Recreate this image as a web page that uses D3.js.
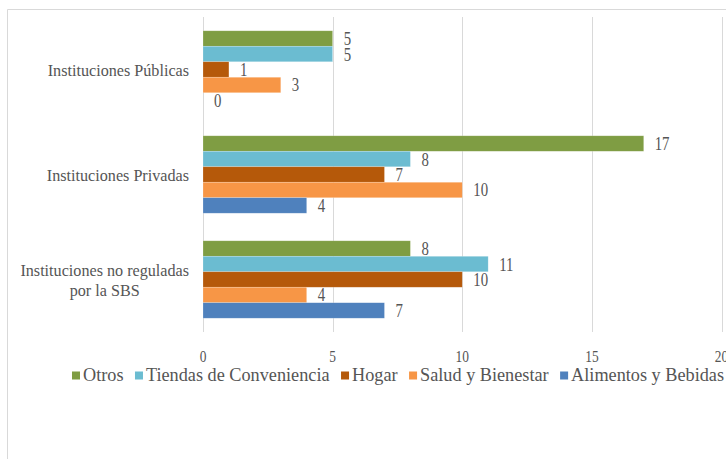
<!DOCTYPE html>
<html>
<head>
<meta charset="utf-8">
<script src="https://cdn.jsdelivr.net/npm/d3@7"></script>
<style>
  html, body { margin: 0; padding: 0; background: #ffffff; }
  svg { display: block; }
</style>
</head>
<body>
<div id="chart"></div>
<script>
// data
const categories = ['Instituciones Públicas', 'Instituciones Privadas', 'Instituciones no reguladas|por la SBS'];
const seriesNames = ['Otros', 'Tiendas de Conveniencia', 'Hogar', 'Salud y Bienestar', 'Alimentos y Bebidas'];
const seriesColors = ['#7F9D43', '#6BBCD1', '#B5590A', '#F79646', '#4F81BD'];
const otros = [5, 17, 8];
const tiendas = [5, 8, 11];
const hogar = [1, 7, 10];
const salud = [3, 10, 4];
const alimentos = [0, 4, 7];
const xTicks = [0, 5, 10, 15, 20];

const seriesValues = [otros, tiendas, hogar, salud, alimentos];

const W = 726, H = 459;
const textColor = '#555555';
const gridColor = '#D9D9D9';
const fontFamily = 'Liberation Serif';

const svg = d3.select('#chart').append('svg')
    .attr('width', W)
    .attr('height', H);

// outer chart border (cropped at right and bottom)
svg.append('path')
    .attr('d', `M7.5,${H} V9.5 H${W}`)
    .attr('fill', 'none')
    .attr('stroke', gridColor)
    .attr('stroke-width', 1);

const x = d3.scaleLinear().domain([0, 20]).range([203, 721.5]);
const y0 = d3.scaleBand().domain(categories).range([17, 332]);
const y1 = d3.scaleBand().domain(seriesNames).range([0, y0.bandwidth()]).paddingOuter(0.89);

// squeezed text, as in the picture
function label(g, str, px, py, size, sx, anchor) {
    return g.append('text')
        .attr('transform', `translate(${px},${py}) scale(${sx},1)`)
        .attr('text-anchor', anchor)
        .attr('font-family', fontFamily)
        .attr('font-size', size)
        .attr('fill', textColor)
        .text(str);
}

// gridlines
svg.append('g').selectAll('line')
    .data(xTicks)
    .join('line')
    .attr('x1', d => Math.round(x(d)) + 0.5)
    .attr('x2', d => Math.round(x(d)) + 0.5)
    .attr('y1', 17)
    .attr('y2', 332)
    .attr('stroke', gridColor)
    .attr('stroke-width', 1);

// tick labels
const tickG = svg.append('g');
xTicks.forEach(t => label(tickG, String(t), x(t), 361.5, 16, 0.84, 'middle'));

// bars
const rows = [];
categories.forEach((c, ci) => {
    seriesNames.forEach((s, si) => {
        rows.push({ cat: c, series: s, value: seriesValues[si][ci], color: seriesColors[si] });
    });
});

const barG = svg.append('g');
barG.selectAll('rect')
    .data(rows)
    .join('rect')
    .attr('x', x(0))
    .attr('y', d => y0(d.cat) + y1(d.series))
    .attr('width', d => x(d.value) - x(0))
    .attr('height', y1.bandwidth())
    .attr('fill', d => d.color)
    .attr('stroke', '#ffffff')
    .attr('stroke-opacity', 0.35)
    .attr('stroke-width', 0.6);

// value labels
const valG = svg.append('g');
rows.forEach(d => {
    const cy = y0(d.cat) + y1(d.series) + y1.bandwidth() / 2;
    label(valG, String(d.value), x(d.value) + 11, cy + 6.5, 19, 0.78, 'start');
});

// category labels
const catG = svg.append('g');
categories.forEach(c => {
    const lines = c.split('|');
    const cy = y0(c) + y0.bandwidth() / 2;
    const lineH = 20;
    const sx = 0.95;
    const nodes = lines.map((ln, i) => {
        const base = cy + 6 - (lines.length - 1) * lineH / 2 + i * lineH;
        return label(catG, ln, 0, base, 17, sx, 'middle');
    });
    const widths = nodes.map(n => n.node().getComputedTextLength() * sx);
    const blockW = d3.max(widths);
    const right = 189;
    nodes.forEach((n, i) => {
        const base = cy + 6 - (lines.length - 1) * lineH / 2 + i * lineH;
        n.attr('transform', `translate(${right - blockW / 2},${base}) scale(${sx},1)`);
    });
});

// legend
const legG = svg.append('g');
const legSx = 0.96, legSize = 19;
const legStart = 72, legEnd = 724;
const items = seriesNames.map((s, i) => {
    const t = label(legG, s, 0, 381, legSize, legSx, 'start');
    return { name: s, color: seriesColors[i], node: t, w: t.node().getComputedTextLength() * legSx };
});
const sq = 8, sqGap = 3;
const used = d3.sum(items, d => sq + sqGap + d.w);
const itemGap = (legEnd - legStart - used) / (items.length - 1);
let cx = legStart;
items.forEach(d => {
    legG.append('rect')
        .attr('x', cx)
        .attr('y', 371.5)
        .attr('width', sq)
        .attr('height', sq)
        .attr('fill', d.color);
    d.node.attr('transform', `translate(${cx + sq + sqGap},381) scale(${legSx},1)`);
    cx += sq + sqGap + d.w + itemGap;
});
</script>
</body>
</html>
